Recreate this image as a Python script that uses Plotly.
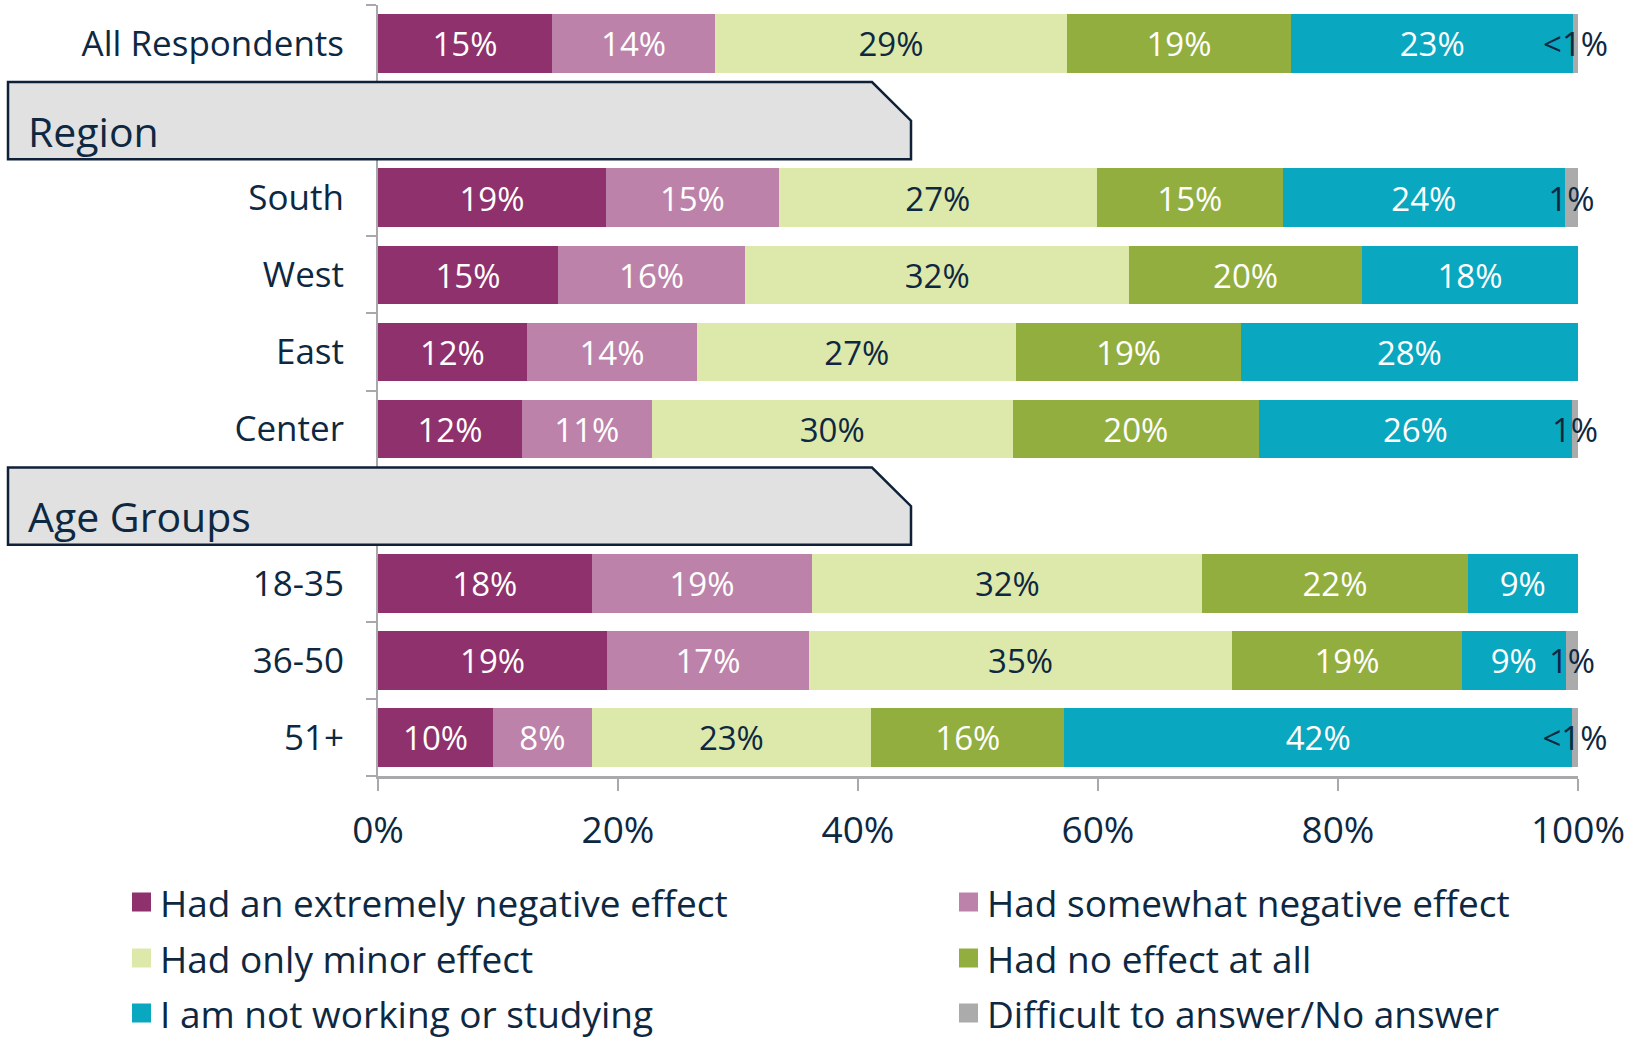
import plotly.graph_objects as go

# rows of the chart (top to bottom), headers sit in their own slots
rows = ["All Respondents", "South", "West", "East", "Center", "18-35", "36-50", "51+"]
row_pos = [0, 2, 3, 4, 5, 7, 8, 9]
headers = ["Region", "Age Groups"]
header_pos = [1, 6]

series = [
    "Had an extremely negative effect",
    "Had somewhat negative effect",
    "Had only minor effect",
    "Had no effect at all",
    "I am not working or studying",
    "Difficult to answer/No answer",
]
colors = ["#8E316C", "#BC82A9", "#DDE9AA", "#92AE3E", "#0AA7C0", "#ABABAB"]
text_colors = ["white", "white", "#0E2841", "white", "white", "#0E2841"]

# bar lengths (%)
extremely = [14.5, 19.0, 15.0, 12.4, 12.0, 17.8, 19.1, 9.6]
somewhat = [13.6, 14.4, 15.6, 14.2, 10.8, 18.4, 16.8, 8.2]
minor = [29.3, 26.5, 32.0, 26.6, 30.1, 32.5, 35.3, 23.3]
no_effect = [18.7, 15.5, 19.4, 18.7, 20.5, 22.1, 19.1, 16.1]
not_working = [23.5, 23.5, 18.0, 28.1, 26.1, 9.2, 8.7, 42.3]
difficult = [0.4, 1.1, 0.0, 0.0, 0.5, 0.0, 1.0, 0.5]

# printed labels
lab_extremely = ["15%", "19%", "15%", "12%", "12%", "18%", "19%", "10%"]
lab_somewhat = ["14%", "15%", "16%", "14%", "11%", "19%", "17%", "8%"]
lab_minor = ["29%", "27%", "32%", "27%", "30%", "32%", "35%", "23%"]
lab_no_effect = ["19%", "15%", "20%", "19%", "20%", "22%", "19%", "16%"]
lab_not_working = ["23%", "24%", "18%", "28%", "26%", "9%", "9%", "42%"]
lab_difficult = ["<1%", "1%", "", "", "1%", "", "1%", "<1%"]

x_ticks = [0, 20, 40, 60, 80, 100]
x_ticktext = ["0%", "20%", "40%", "60%", "80%", "100%"]

values = [extremely, somewhat, minor, no_effect, not_working, difficult]
labels = [lab_extremely, lab_somewhat, lab_minor, lab_no_effect, lab_not_working, lab_difficult]

NAVY = "#0E2841"
GRID = "#A9A9AB"
FONT = "Open Sans"

W, H = 1638, 1039
ML, MR, MT, MB = 378, 60, 5, 263
PW, PH = W - ML - MR, H - MT - MB


def px_x(px):
    return (px - ML) / PW


def px_y(py):
    return (H - MB - py) / PH


fig = go.Figure()

running = [0.0] * len(rows)
for i, name in enumerate(series):
    fig.add_trace(go.Bar(
        x=values[i], y=row_pos, orientation="h", name=name,
        marker=dict(color=colors[i], line=dict(width=0)),
        width=0.76, hoverinfo="skip", showlegend=False,
    ))
    # value labels centred on each segment (the thin grey one spills over);
    # nudged a little down so the digits sit in the optical middle of the bar
    centers = [r + v / 2 for r, v in zip(running, values[i])]
    running = [r + v for r, v in zip(running, values[i])]
    fig.add_trace(go.Scatter(
        x=centers, y=[p + 0.06 for p in row_pos], mode="text", text=labels[i],
        textposition="middle center", cliponaxis=False,
        textfont=dict(family=FONT, size=33, color=text_colors[i]),
        hoverinfo="skip", showlegend=False,
    ))

fig.update_layout(
    barmode="stack", width=W, height=H,
    margin=dict(l=ML, r=MR, t=MT, b=MB),
    plot_bgcolor="white", paper_bgcolor="white",
    font=dict(family=FONT, color=NAVY),
    xaxis=dict(
        range=[0, 100], tickvals=x_ticks, ticktext=x_ticktext,
        showgrid=False, zeroline=False, showline=True, linecolor=GRID, linewidth=3,
        ticks="outside", ticklen=12, tickwidth=2, tickcolor=GRID,
        ticklabelstandoff=8, tickfont=dict(family=FONT, size=37, color=NAVY),
    ),
    yaxis=dict(
        range=[9.5, -0.5], tickvals=row_pos, ticktext=rows,
        showgrid=False, zeroline=False, showline=True, linecolor=GRID, linewidth=2,
        ticks="", ticklabelstandoff=25,
        tickfont=dict(family=FONT, size=35, color=NAVY),
        minor=dict(tickvals=[k - 0.5 for k in range(11)], ticks="outside",
                   ticklen=10, tickwidth=2, tickcolor=GRID, showgrid=False),
    ),
)

# section header tabs
left, corner, right = px_x(8), px_x(872), px_x(911)
for name, pos in zip(headers, header_pos):
    top, bot = pos - 0.5, pos + 0.5
    path = (f"M {left},{top} L {corner},{top} L {right},{pos} "
            f"L {right},{bot} L {left},{bot} Z")
    fig.add_shape(type="path", path=path, xref="paper", yref="y",
                  fillcolor="#E1E1E1", line=dict(color="#0E2138", width=2.5),
                  layer="above")
    fig.add_annotation(text=name, x=px_x(26), y=pos + 0.13, xref="paper", yref="y",
                       xanchor="left", yanchor="middle", showarrow=False,
                       font=dict(family=FONT, size=41, color=NAVY))

# legend drawn by hand: two columns, three rows
col_x = [132, 959]
row_y = [902, 958, 1013]
for i, name in enumerate(series):
    cx = col_x[i % 2]
    cy = row_y[i // 2]
    fig.add_shape(type="rect", xref="paper", yref="paper",
                  x0=px_x(cx), x1=px_x(cx + 19), y0=px_y(cy - 9.5), y1=px_y(cy + 9.5),
                  fillcolor=colors[i], line=dict(width=0))
    fig.add_annotation(text=name, x=px_x(cx + 26), y=px_y(cy), xref="paper", yref="paper",
                       xanchor="left", yanchor="middle", showarrow=False,
                       font=dict(family=FONT, size=37, color=NAVY))

# the page's default body margin would shift the figure by 8px
fig.write_html("out.html", config={"displayModeBar": False},
               post_script="document.body.style.margin='0';")
